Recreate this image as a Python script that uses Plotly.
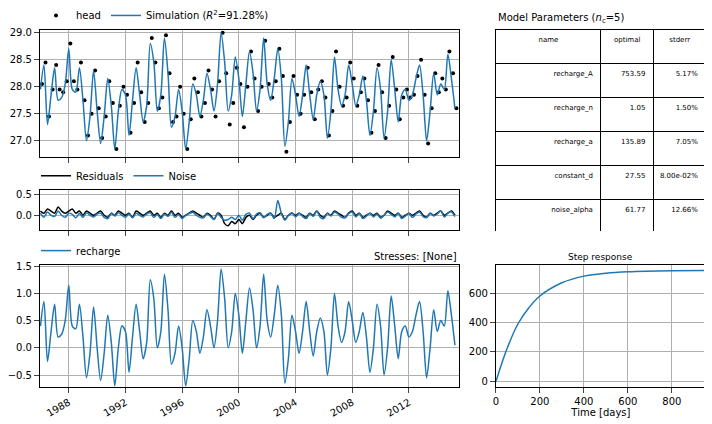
import plotly.graph_objects as go
import pandas as pd

constant_d = 27.55
# quarterly recharge contribution (1986Q1 .. 2015Q3)
recharge = [0.4,0.85,-0.25,0.3, 0.8,0.2,0.25,0.5, 1.15,0.4,0.35,0.8, 0.2,-0.55,-0.1,0.75,
            0.0,-0.6,-0.1,0.6, 0.1,-0.7,0.0,0.4, 0.3,-0.45,0.2,0.8, 0.3,-0.2,0.1,1.25,
            0.9,0.0,0.3,1.35, 0.7,-0.3,-0.1,0.4, 0.0,-0.7,-0.2,0.5, 0.3,-0.1,0.2,0.7,
            0.4,0.0,0.5,1.45, 0.9,0.0,0.3,1.0, 0.6,-0.1,0.5,1.1, 0.7,0.0,0.4,1.35,
            0.5,0.2,0.6,1.15, 0.6,-0.65,-0.2,0.6, 0.3,-0.1,0.3,0.85, 0.3,-0.15,0.3,0.55,
            0.3,-0.5,0.0,1.0, 0.4,0.1,0.3,0.85, 0.5,0.1,0.3,0.65, 0.2,-0.45,0.0,0.8,
            0.4,-0.5,0.0,0.95, 0.4,-0.2,0.3,0.4, 0.2,0.3,0.6,0.85, 0.3,-0.55,0.0,0.7,
            0.3,0.5,0.4,1.05, 0.6,0.05]
residuals = [0.1,0.05,0.15,0.1, 0.05,0.2,0.1,0.05, 0.1,0.15,0.05,0.1, 0.0,0.1,0.05,0.0,
             0.05,0.1,0.0,-0.05, 0.05,0.0,0.1,0.05, 0.0,0.05,-0.05,0.1, 0.05,0.0,0.05,0.1,
             0.0,0.05,-0.05,0.05, 0.0,0.1,0.0,0.05, -0.05,0.0,0.05,0.1, 0.05,0.0,-0.05,0.05,
             0.0,-0.1,0.05,0.0, -0.2,-0.25,-0.15,-0.2, -0.1,-0.2,-0.05,0.0, -0.1,0.0,0.05,-0.05,
             0.0,0.05,-0.05,0.0, 0.05,-0.1,0.0,0.05, 0.0,0.05,0.0,-0.05, 0.05,0.0,0.1,0.0,
             -0.05,0.05,0.0,0.1, 0.05,0.0,-0.05,0.05, 0.1,0.0,0.05,-0.05, 0.0,0.05,0.0,0.05,
             -0.05,0.0,0.1,0.05, 0.0,0.05,-0.05,0.0, 0.05,0.0,0.05,0.1, 0.0,-0.05,0.05,0.0,
             0.05,0.1,0.0,0.05, 0.1,0.0]
noise = [0.05,-0.05,0.08,0.0, -0.03,0.1,0.0,-0.05, 0.05,0.02,-0.06,0.04, -0.05,0.06,0.0,-0.04,
         0.03,0.05,-0.05,-0.08, 0.04,-0.02,0.06,0.0, -0.05,0.03,-0.06,0.05, 0.0,-0.04,0.03,0.06,
         -0.05,0.02,-0.08,0.03, -0.03,0.07,-0.05,0.02, -0.08,0.0,0.04,0.07, 0.0,-0.05,-0.06,0.03,
         -0.03,-0.1,0.05,-0.05, -0.12,-0.1,-0.05,-0.1, 0.0,-0.12,0.02,0.05, -0.08,0.03,0.06,-0.06,
         0.02,0.05,-0.08,0.35, 0.05,-0.12,0.0,0.06, -0.04,0.05,-0.03,-0.08, 0.04,-0.03,0.1,-0.05,
         -0.08,0.05,-0.02,0.08, 0.03,-0.05,-0.06,0.04, 0.08,-0.04,0.05,-0.08, -0.02,0.05,-0.04,0.03,
         -0.07,0.0,0.08,0.02, -0.04,0.05,-0.08,-0.02, 0.04,-0.05,0.03,0.08, -0.03,-0.06,0.05,-0.02,
         0.03,0.1,-0.04,0.05, 0.08,-0.03]
step_t = [0, 50, 100, 150, 200, 300, 400, 500, 600, 800, 950]
step_v = [0, 220, 390, 500, 580, 670, 715, 735, 745, 752, 753]
par_names = ["recharge_A", "recharge_n", "recharge_a", "constant_d", "noise_alpha"]
par_opt = ["753.59", "1.05", "135.89", "27.55", "61.77"]
par_err = ["5.17%", "1.50%", "7.05%", "8.00e-02%", "12.66%"]

n = len(recharge)
dates = pd.date_range("1986-01-01", periods=n, freq="QS")
sim = [constant_d + r for r in recharge]
obs_dates = dates + pd.Timedelta(days=40)
head = [s + e for s, e in zip(sim, residuals)]

blue = "#1f77b4"
ln = dict(color=blue, width=1.5, shape="spline", smoothing=0.8)
fig = go.Figure()
fig.add_trace(go.Scatter(x=obs_dates, y=head, mode="markers", marker=dict(color="black", size=4),
                         name="head", legend="legend", xaxis="x", yaxis="y"))
fig.add_trace(go.Scatter(x=dates, y=sim, mode="lines", line=ln,
                         name="Simulation (<i>R</i><sup>2</sup>=91.28%)", legend="legend", xaxis="x", yaxis="y"))
fig.add_trace(go.Scatter(x=dates, y=residuals, mode="lines", line=dict(ln, color="black"),
                         name="Residuals", legend="legend2", xaxis="x2", yaxis="y2"))
fig.add_trace(go.Scatter(x=dates, y=noise, mode="lines", line=ln,
                         name="Noise", legend="legend2", xaxis="x2", yaxis="y2"))
fig.add_trace(go.Scatter(x=dates, y=recharge, mode="lines", line=ln,
                         name="recharge", legend="legend3", xaxis="x3", yaxis="y3"))
fig.add_trace(go.Scatter(x=step_t, y=step_v, mode="lines", line=dict(color=blue, width=1.5, shape="spline"),
                         showlegend=False, xaxis="x4", yaxis="y4"))
fig.add_trace(go.Table(domain=dict(x=[0.697, 0.997], y=[0.459, 0.949]), columnwidth=[2.0, 1.0, 1.0],
                       header=dict(values=["name", "optimal", "stderr"], height=34,
                                   line=dict(color="black", width=1), fill=dict(color="white"),
                                   font=dict(size=7, color="black"), align="center"),
                       cells=dict(values=[par_names, par_opt, par_err], height=34,
                                  line=dict(color="black", width=1), fill=dict(color="white"),
                                  font=dict(size=7, color="black"), align="right")))

rng = [pd.Timestamp("1985-12-20"), pd.Timestamp("2015-07-10")]
xcommon = dict(range=rng, type="date", dtick="M48", tick0="1988-01-01", showgrid=True,
               gridcolor="#b0b0b0", showline=True, mirror=True, linecolor="black",
               ticks="outside", tickfont=dict(size=10, color="black"), automargin=False)
ycommon = dict(showgrid=True, gridcolor="#b0b0b0", showline=True, mirror=True, linecolor="black",
               ticks="outside", tickfont=dict(size=10, color="black"), zeroline=False, automargin=False)
fig.update_layout(
    width=700, height=414, margin=dict(l=0, r=0, t=0, b=0, autoexpand=False), plot_bgcolor="white", paper_bgcolor="white",
    font=dict(family="DejaVu Sans", size=10, color="black"),
    xaxis=dict(xcommon, domain=[0.0457, 0.644], anchor="y", showticklabels=False),
    yaxis=dict(ycommon, domain=[0.640, 0.947], range=[26.7, 29.05], tickvals=[27.0, 27.5, 28.0, 28.5, 29.0], tickformat=".1f"),
    xaxis2=dict(xcommon, domain=[0.0457, 0.644], anchor="y2", showticklabels=False),
    yaxis2=dict(ycommon, domain=[0.464, 0.560], range=[-0.35, 0.6], tickvals=[0.0, 0.5], tickformat=".1f"),
    xaxis3=dict(xcommon, domain=[0.0457, 0.644], anchor="y3", tickangle=-30),
    yaxis3=dict(ycommon, domain=[0.0845, 0.379], range=[-0.72, 1.52], tickvals=[-0.5, 0, 0.5, 1.0, 1.5], tickformat=".1f"),
    xaxis4=dict(ycommon, domain=[0.697, 0.997], anchor="y4", range=[0, 955], tickvals=[0, 200, 400, 600, 800],
                title=dict(text="Time [days]", font=dict(size=10), standoff=2)),
    yaxis4=dict(ycommon, domain=[0.0845, 0.379], anchor="x4", range=[-38, 790], tickvals=[0, 200, 400, 600]),
    legend=dict(orientation="h", x=0.04, y=0.947, yanchor="bottom", bgcolor="rgba(0,0,0,0)", font=dict(size=10)),
    legend2=dict(orientation="h", x=0.04, y=0.560, yanchor="bottom", bgcolor="rgba(0,0,0,0)", font=dict(size=10)),
    legend3=dict(orientation="h", x=0.04, y=0.379, yanchor="bottom", bgcolor="rgba(0,0,0,0)", font=dict(size=10)),
    annotations=[
        dict(text="Stresses: [None]", x=0.644, y=0.382, xref="paper", yref="paper", xanchor="right", yanchor="bottom", showarrow=False, font=dict(size=10)),
        dict(text="Model Parameters (<i>n</i><sub>c</sub>=5)", x=0.697, y=0.955, xref="paper", yref="paper", xanchor="left", yanchor="bottom", showarrow=False, font=dict(size=10)),
        dict(text="Step response", x=0.847, y=0.382, xref="paper", yref="paper", xanchor="center", yanchor="bottom", showarrow=False, font=dict(size=9)),
    ],
)
fig.write_html("out.html")
